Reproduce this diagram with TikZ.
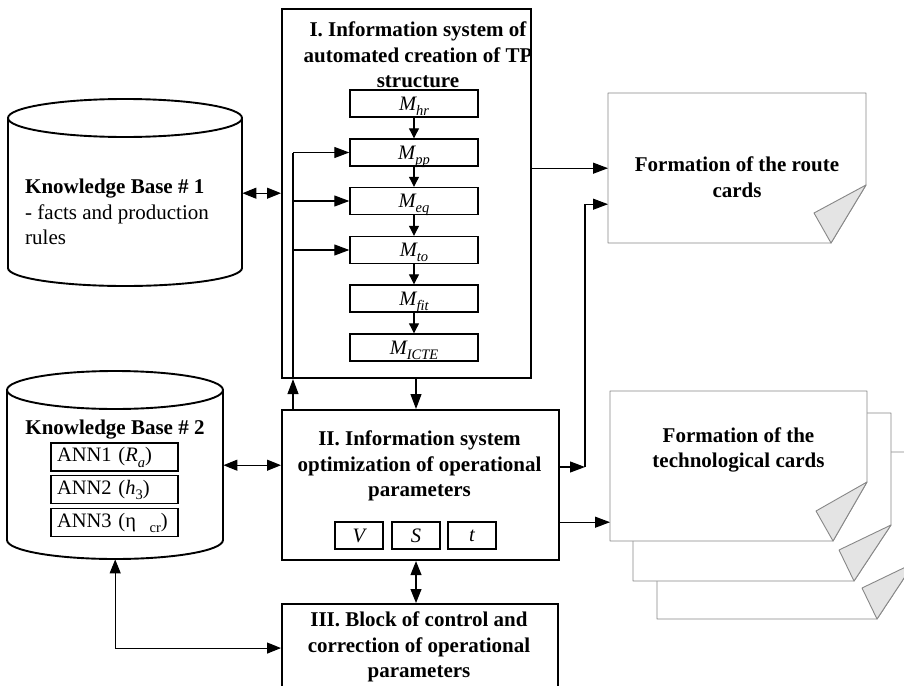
\documentclass[tikz,border=0pt]{standalone}
\usepackage{fontspec}
\setmainfont{Liberation Serif}
\usetikzlibrary{arrows.meta}
\definecolor{docline}{RGB}{135,135,135}
\definecolor{foldfill}{RGB}{228,228,228}

% lowered index in text fonts, taking no vertical room
\newcommand\lowidx[1]{\raisebox{-0.25em}[0pt][0pt]{\fontsize{14.5}{15}\selectfont #1}}

% a sheet with a folded lower right corner
% #1 left, #2 top, #3 right, #4 bottom, #5 fold start on the right edge,
% #6 fold end on the bottom edge, #7,#8 inner tip of the fold
\newcommand\cardsheet[8]{%
  \filldraw[fill=white, draw=docline, line width=0.9pt, line join=round]
    (#1,#2) -- (#3,#2) -- (#3,#5) -- (#6,#4) -- (#1,#4) -- cycle;
  \filldraw[fill=foldfill, draw=docline, line width=0.9pt, line join=round]
    (#3,#5) -- (#6,#4) -- (#7,#8) -- cycle;}

\begin{document}
\begin{tikzpicture}[x=1pt,y=-1pt,
  font=\fontsize{21}{25.5}\selectfont,
  block/.style={draw, line width=2.1pt, inner sep=0pt, anchor=north west},
  spot/.style={inner sep=0pt, anchor=north west},
  mbox/.style={draw, line width=1.4pt, minimum width=128pt, minimum height=27pt,
    inner sep=0pt, font=\fontsize{20.5}{24}\selectfont\itshape},
  annbox/.style={draw, line width=1.4pt, minimum height=28pt, text width=115pt,
    inner xsep=6pt, inner ysep=0pt, align=left, font=\fontsize{20.5}{24}\selectfont},
  vbox/.style={draw, line width=1.4pt, minimum width=48pt, minimum height=27pt,
    inner sep=0pt, font=\fontsize{20.5}{24}\selectfont\itshape},
  cyl/.style={line width=1.9pt},
  title/.style={align=center, inner sep=0pt, font=\fontsize{21}{25.5}\selectfont\bfseries},
  conn/.style={line width=1.1pt, -{Triangle[length=15pt,width=11pt]}},
  conntwo/.style={line width=1.1pt, {Triangle[length=14pt,width=11pt]}-{Triangle[length=14pt,width=11pt]}},
  chain/.style={line width=1.1pt, -{Triangle[length=10pt,width=10pt]}},
  wire/.style={line width=1.1pt}
]
\clip (0,0) rectangle (904,685);
\fill[white] (0,0) rectangle (904,685);

% ---------- knowledge bases ----------
\node[spot, minimum width=234pt, minimum height=188pt] (kb1) at (8,99) {};
\draw[cyl, fill=white] (8,118) -- (8,268)
  arc[start angle=180, end angle=360, x radius=117pt, y radius=18pt] -- (242,118);
\draw[cyl] (125,118) ellipse [x radius=117pt, y radius=19pt];
\node[anchor=west, align=left, inner sep=0pt] (kb1txt) at (25,212)
  {\textbf{Knowledge Base \# 1}\\- facts and production\\rules};

\node[spot, minimum width=216pt, minimum height=188pt] (kb2) at (7,371) {};
\draw[cyl, fill=white] (7,390) -- (7,540)
  arc[start angle=180, end angle=360, x radius=108pt, y radius=19pt] -- (223,390);
\draw[cyl] (115,390) ellipse [x radius=108pt, y radius=19pt];
\node[title] (kb2txt) at (115,430) {Knowledge Base \# 2};
\node[annbox] (ann1) at (114.5,457) {ANN1 (\textit{R}\lowidx{\textit{a}})};
\node[annbox] (ann2) at (114.5,489.5) {ANN2 (\textit{h}\lowidx{3})};
\node[annbox] (ann3) at (114.5,522.5) {ANN3 (η\lowidx{\ \ cr})};

% ---------- block I ----------
\node[block, minimum width=249pt, minimum height=369pt] (b1) at (281,8) {};
\node[title] (b1txt) at (418,55)
  {I. Information system of\\automated creation of TP\\structure};
\node[mbox] (mhr)  at (414,103.5) {M\lowidx{hr}};
\node[mbox] (mpp)  at (414,152.5) {M\lowidx{pp}};
\node[mbox] (meq)  at (414,201)   {M\lowidx{eq}};
\node[mbox] (mto)  at (414,250)   {M\lowidx{to}};
\node[mbox] (mfit) at (414,298.5) {M\lowidx{fit}};
\node[mbox] (mict) at (414,347.5) {M\lowidx{ICTE}};
\draw[chain] (mhr) -- (mpp);
\draw[chain] (mpp) -- (meq);
\draw[chain] (meq) -- (mto);
\draw[chain] (mto) -- (mfit);
\draw[chain] (mfit) -- (mict);

% ---------- block II ----------
\node[block, minimum width=277pt, minimum height=150pt] (b2) at (281,409) {};
\node[title] (b2txt) at (419.5,466)
  {II. Information system\\optimization of operational\\parameters};
\node[vbox] (pv) at (359,535.5) {V};
\node[vbox] (ps) at (416,535.5) {S};
\node[vbox] (pt) at (472,535.5) {t};

% ---------- block III ----------
\node[block, minimum width=276pt, minimum height=88pt] (b3) at (281,603) {};
\node[title] (b3txt) at (419,647)
  {III. Block of control and\\correction of operational\\parameters};

% ---------- output cards ----------
\cardsheet{657}{452}{914}{619}{563}{877}{862}{588}
\cardsheet{633}{413}{891}{581}{525}{854}{839}{550}
\cardsheet{610}{391}{867}{541}{482}{833}{816}{511}
\node[spot, minimum width=257pt, minimum height=150pt] (tech) at (610,391) {};
\node[title] (techtxt) at (738.5,450) {Formation of the\\technological cards};

\cardsheet{608}{93}{866}{243}{185}{831}{814}{213}
\node[spot, minimum width=258pt, minimum height=150pt] (route) at (608,93) {};
\node[title] (routetxt) at (737,177) {Formation of the route\\cards};

% ---------- connectors ----------
\draw[conntwo] (kb1.east) -- (kb1.east -| b1.west);
\draw[conntwo] (kb2.east) -- (kb2.east -| b2.west);

\coordinate (fb) at ([xshift=12pt]b2.north west);
\draw[conn] (fb) -- (fb |- b1.south);
\draw[wire] (fb |- b1.south) -- (fb |- mpp.west);
\draw[conn] (fb |- mpp.west) -- (mpp.west);
\draw[conn] (fb |- meq.west) -- (meq.west);
\draw[conn] (fb |- mto.west) -- (mto.west);

\coordinate (mx) at (416,0);
\draw[conn] (b1.south -| mx) -- (b2.north -| mx);
\draw[conntwo] (b2.south -| mx) -- (b3.north -| mx);
\draw[conntwo] (kb2.south) |- (b3.west);

\draw[conn] (b1.east |- route.west) -- (route.west);
\coordinate (jn) at (585,467);
\draw[conn] (b2.east |- jn) -- (jn);
\draw[conn] (jn) |- ([yshift=-36pt]route.west);
\coordinate (techin) at ([yshift=-56pt]tech.west);
\draw[conn] (b2.east |- techin) -- (techin);
\end{tikzpicture}
\end{document}
